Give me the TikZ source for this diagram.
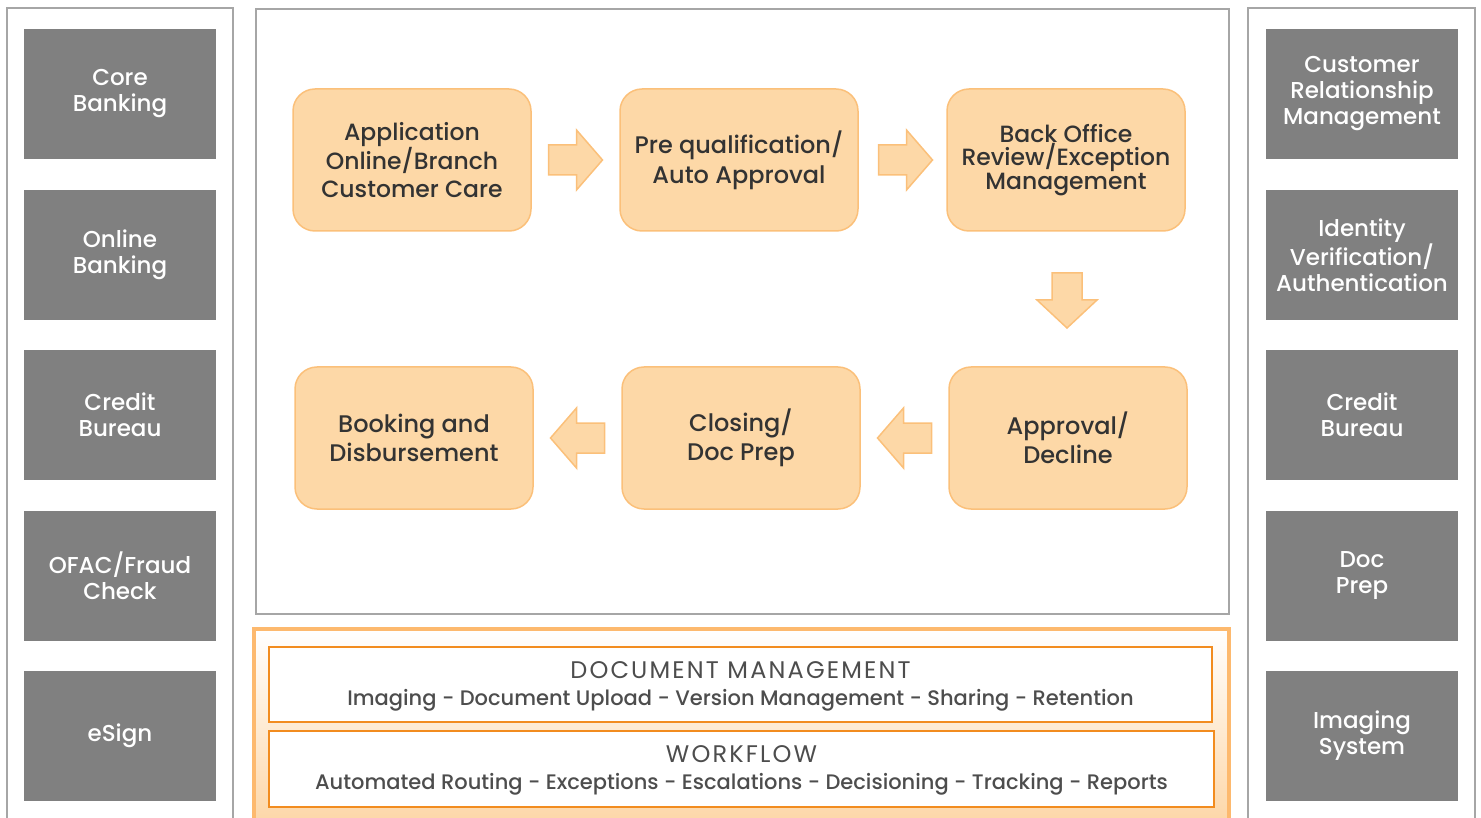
\documentclass[tikz,border=0pt]{standalone}
\usepackage{fontspec}
\setmainfont{Poppins Medium}
\newfontfamily\titlefont{Poppins}[LetterSpace=9]
\usetikzlibrary{calc,positioning}

\definecolor{sysgray}{HTML}{808080}
\definecolor{framegray}{HTML}{A6A6A6}
\definecolor{stepfill}{HTML}{FDD8A7}
\definecolor{stepline}{HTML}{FBC07A}
\definecolor{panelline}{HTML}{FDB96E}
\definecolor{panelpeach}{HTML}{FDD3A0}
\definecolor{boxline}{HTML}{F28C1F}
\definecolor{textdark}{HTML}{333333}
\definecolor{textgray}{HTML}{4D4D4D}

\tikzset{
  sysbox/.style={fill=sysgray, minimum width=192pt, minimum height=130pt,
    inner sep=0pt, text=white, align=center, font=\fontsize{23}{26}\selectfont},
  stepbox/.style={rounded corners=22pt, fill=stepfill, draw=stepline,
    line width=1.5pt, minimum width=238pt, minimum height=142pt, inner sep=0pt,
    align=center, text=textdark, font=\fontsize{24}{29}\selectfont},
  blockarrow/.style={fill=stepfill, draw=stepline, line width=1.5pt},
  frame/.style={draw=framegray, line width=2.5pt},
  bandbox/.style={draw=boxline, fill=white, line width=2pt, inner sep=0pt},
  bandtitle/.style={anchor=base, inner sep=0pt, text=textgray,
    font=\titlefont\fontsize{24}{28}\selectfont},
  bandtext/.style={anchor=base, inner sep=0pt, text=textgray,
    font=\fontsize{21}{26}\selectfont},
}

\begin{document}
\begin{tikzpicture}[x=1pt,y=-1pt]
  \useasboundingbox (0,0) rectangle (1481,818);
  % frames
  \draw[frame] (7,8) rectangle (233,840);
  \draw[frame] (256,9) rectangle (1229,614);
  \draw[frame] (1248,8) rectangle (1475,840);

  % systems on the left
  \node[sysbox] (core) at (120,94) {Core\\Banking};
  \node[sysbox] (online) at (120,255) {Online\\Banking};
  \node[sysbox] (creditl) at (120,415) {Credit\\Bureau};
  \node[sysbox] (ofac) at (120,576) {OFAC/Fraud\\Check};
  \node[sysbox] (esign) at (120,736) {eSign};

  % systems on the right
  \node[sysbox] (crm) at (1362,94) {Customer\\Relationship\\Management};
  \node[sysbox] (idv) at (1362,255) {Identity\\Verification/\\Authentication};
  \node[sysbox] (creditr) at (1362,415) {Credit\\Bureau};
  \node[sysbox] (docprep) at (1362,576) {Doc\\Prep};
  \node[sysbox] (imaging) at (1362,736) {Imaging\\System};

  % process steps
  \node[stepbox, font=\fontsize{23.5}{28}\selectfont] (app) at (412,160) {Application\\Online/Branch\\Customer Care};
  \node[stepbox, font=\fontsize{24}{30}\selectfont] (preq) at (739,160) {Pre qualification/\\Auto Approval};
  \node[stepbox, font=\fontsize{23.5}{23.5}\selectfont] (back) at (1066,160) {Back Office\\Review/Exception\\Management};
  \node[stepbox] (book) at (414,438) {Booking and\\Disbursement};
  \node[stepbox] (clos) at (741,438) {Closing/\\Doc Prep};
  \node[stepbox] (appr) at (1068,438) {Approval/\\Decline};

  % block arrows between the steps
  \coordinate (a1) at ($(app.east)!0.5!(preq.west)$);
  \coordinate (a2) at ($(preq.east)!0.5!(back.west)+(3,0)$);
  \coordinate (a3) at ($(back.south)!0.5!(appr.north)+(0,1)$);
  \coordinate (a4) at ($(clos.west)!0.5!(book.east)$);
  \coordinate (a5) at ($(appr.west)!0.5!(clos.east)$);
  \draw[blockarrow] (a1) ++(-27,-15) -- ++(28,0) -- ++(0,-15) -- ++(26,30)
    -- ++(-26,30) -- ++(0,-15) -- ++(-28,0) -- cycle;
  \draw[blockarrow] (a2) ++(-27,-15) -- ++(28,0) -- ++(0,-15) -- ++(26,30)
    -- ++(-26,30) -- ++(0,-15) -- ++(-28,0) -- cycle;
  \draw[blockarrow] (a3) ++(-15,-27) -- ++(30,0) -- ++(0,27) -- ++(15,0)
    -- ++(-30,28) -- ++(-30,-28) -- ++(15,0) -- cycle;
  \draw[blockarrow] (a4) ++(27,-15) -- ++(-28,0) -- ++(0,-15) -- ++(-26,30)
    -- ++(26,30) -- ++(0,-15) -- ++(28,0) -- cycle;
  \draw[blockarrow] (a5) ++(27,-15) -- ++(-28,0) -- ++(0,-15) -- ++(-26,30)
    -- ++(26,30) -- ++(0,-15) -- ++(28,0) -- cycle;

  % platform panel
  \draw[draw=panelline, line width=4pt, top color=white, bottom color=panelpeach]
    (254,629) rectangle (1229,840);
  \node[bandbox, minimum width=943pt, minimum height=75pt] (docmgmt) at (740.5,684.5) {};
  \node[bandtitle] (doctitle) at ($(docmgmt.center)+(0,-6.5)$) {DOCUMENT MANAGEMENT};
  \node[bandtext] (doctext) at ($(docmgmt.center)+(0,21)$)
    {Imaging - Document Upload - Version Management - Sharing - Retention};
  \node[bandbox, minimum width=945pt, minimum height=76pt] (workflow) at (741.5,769) {};
  \node[bandtitle] (wftitle) at ($(workflow.center)+(0,-7)$) {WORKFLOW};
  \node[bandtext] (wftext) at ($(workflow.center)+(0,20)$)
    {Automated Routing - Exceptions - Escalations - Decisioning - Tracking - Reports};
\end{tikzpicture}
\end{document}
